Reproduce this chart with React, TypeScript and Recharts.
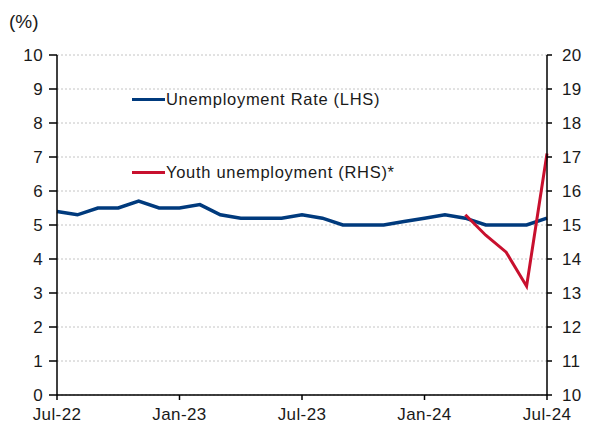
import { CartesianGrid, Legend, Line, LineChart, XAxis, YAxis } from "recharts";

const months = [
  "Jul-22", "Aug-22", "Sep-22", "Oct-22", "Nov-22", "Dec-22",
  "Jan-23", "Feb-23", "Mar-23", "Apr-23", "May-23", "Jun-23",
  "Jul-23", "Aug-23", "Sep-23", "Oct-23", "Nov-23", "Dec-23",
  "Jan-24", "Feb-24", "Mar-24", "Apr-24", "May-24", "Jun-24", "Jul-24",
];
const unemploymentRate = [
  5.4, 5.3, 5.5, 5.5, 5.7, 5.5, 5.5, 5.6, 5.3, 5.2, 5.2, 5.2,
  5.3, 5.2, 5.0, 5.0, 5.0, 5.1, 5.2, 5.3, 5.2, 5.0, 5.0, 5.0, 5.2,
];
const youthUnemployment: (number | null)[] = [
  null, null, null, null, null, null, null, null, null, null, null, null,
  null, null, null, null, null, null, null, null, 15.3, 14.7, 14.2, 13.2, 17.1,
];
const leftTicks = [0, 1, 2, 3, 4, 5, 6, 7, 8, 9, 10];
const rightTicks = [10, 11, 12, 13, 14, 15, 16, 17, 18, 19, 20];

const BLUE = "#003A7D";
const RED = "#C8102E";
const FONT = "'Liberation Sans', Arial, sans-serif";

const data = months.map((m, i) => ({
  month: m,
  rate: unemploymentRate[i],
  youth: youthUnemployment[i],
}));

const tickStyle = { fill: "#1a1a1a", fontSize: 17, fontFamily: FONT, letterSpacing: 0.4 };

function LegendBox() {
  const items = [
    { label: "Unemployment Rate (LHS)", color: BLUE, top: 0 },
    { label: "Youth unemployment (RHS)*", color: RED, top: 73 },
  ];
  return (
    <div style={{ position: "relative", fontFamily: FONT, fontSize: 16.5, letterSpacing: 0.7, color: "#1a1a1a" }}>
      {items.map((it) => (
        <div key={it.label} style={{ position: "absolute", top: it.top, left: 0, display: "flex", alignItems: "center", whiteSpace: "nowrap", height: 22 }}>
          <span style={{ display: "inline-block", width: 33, height: 3, background: it.color }} />
          <span style={{ marginLeft: 1 }}>{it.label}</span>
        </div>
      ))}
    </div>
  );
}

export default function App() {
  return (
    <div style={{ position: "absolute", left: 0, top: 0, width: 590, height: 427, background: "#fff" }}>
      <div style={{ position: "absolute", left: 9, top: 11, fontFamily: FONT, fontSize: 19, color: "#1a1a1a" }}>(%)</div>
      <LineChart width={590} height={427} data={data} margin={{ top: 55, right: 0, bottom: 0, left: 0 }}>
        <CartesianGrid vertical={false} yAxisId="left" stroke="#c4c4c4" strokeDasharray="2 2" />
        <XAxis
          dataKey="month"
          interval={5}
          height={32}
          tick={tickStyle}
          tickSize={5}
          tickMargin={8}
          axisLine={{ stroke: "#000", strokeWidth: 1.5 }}
          tickLine={{ stroke: "#000", strokeWidth: 1.5 }}
        />
        <YAxis
          yAxisId="left"
          domain={[0, 10]}
          ticks={leftTicks}
          width={57}
          tick={tickStyle}
          tickSize={8}
          tickMargin={6}
          axisLine={{ stroke: "#000", strokeWidth: 1.5 }}
          tickLine={{ stroke: "#000", strokeWidth: 1.5 }}
        />
        <YAxis
          yAxisId="right"
          orientation="right"
          domain={[10, 20]}
          ticks={rightTicks}
          width={43}
          tick={{ ...tickStyle, textAnchor: "start" }}
          tickSize={5}
          tickMargin={10}
          axisLine={{ stroke: "#000", strokeWidth: 1.5 }}
          tickLine={{ stroke: "#000", strokeWidth: 1.5 }}
        />
        <Legend
          layout="vertical"
          align="center"
          verticalAlign="middle"
          content={() => <LegendBox />}
          wrapperStyle={{ left: 132, top: 88, width: 320, height: 100 }}
        />
        <Line yAxisId="left" type="linear" dataKey="rate" stroke={BLUE} strokeWidth={3.5} dot={false} isAnimationActive={false} />
        <Line yAxisId="right" type="linear" dataKey="youth" stroke={RED} strokeWidth={3} dot={false} isAnimationActive={false} connectNulls={false} />
      </LineChart>
    </div>
  );
}
